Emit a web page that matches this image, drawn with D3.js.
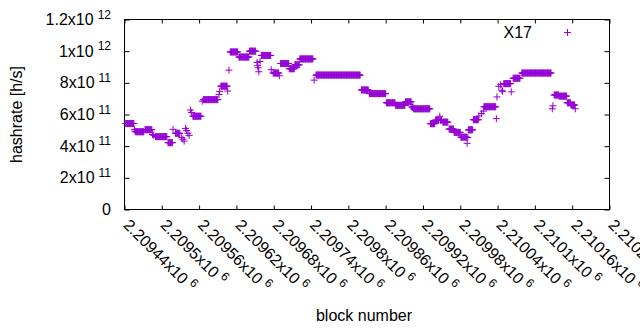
<!DOCTYPE html>
<html>
<head>
<meta charset="utf-8">
<script src="https://cdn.jsdelivr.net/npm/d3@7"></script>
<style>
  body { margin: 0; background: #fff; }
  text { font-family: "Liberation Sans", Arial, sans-serif; fill: #000; }
</style>
</head>
<body>
<svg id="chart" width="640" height="330"></svg>
<script>
// block numbers are offsets from 2209440; hashrate in units of 1e11 h/s
const blockBase = 2209440;
const runStart = [2, 16, 17, 18, 33, 45, 47, 50, 70, 78, 82, 92, 94, 96, 98, 100, 102, 104, 106, 108,
  110, 125, 127, 152, 153, 155, 166, 168, 170, 184, 201, 213, 214, 215, 216, 218, 220, 236, 239, 249,
  251, 265, 274, 282, 305, 308, 381, 394, 421, 436, 452, 462, 465, 492, 500, 507, 508, 512, 522, 530,
  541, 551, 552, 553, 561, 570, 574, 577, 578, 598, 599, 602, 605, 607, 608, 610, 622, 625, 639, 688,
  689, 691, 699, 712, 718, 725];
const runEnd = [15, 16, 17, 31, 44, 45, 47, 68, 77, 78, 89, 92, 94, 96, 98, 100, 102, 104, 106, 108,
  123, 125, 150, 152, 153, 165, 166, 168, 182, 200, 211, 213, 214, 215, 216, 218, 235, 236, 248, 249,
  264, 273, 281, 303, 305, 379, 392, 420, 435, 451, 461, 464, 491, 499, 505, 507, 510, 520, 529, 540,
  550, 551, 552, 560, 569, 570, 574, 577, 597, 598, 599, 602, 605, 607, 608, 621, 622, 636, 686, 688,
  689, 698, 711, 717, 724, 725];
const runValue = [5.43, 5.06, 4.95, 4.91, 5.04, 4.74, 4.68, 4.60, 4.22, 5.06, 4.81, 4.54, 4.44, 4.32, 5.12, 4.99, 4.81, 4.68, 6.28, 6.13,
  5.89, 6.84, 6.94, 7.26, 7.46, 7.79, 7.48, 8.80, 9.95, 9.63, 10.00, 9.29, 9.08, 8.95, 8.70, 9.35, 9.73, 8.83, 8.62, 8.45,
  9.22, 8.89, 9.14, 9.51, 8.17, 8.49, 7.55, 7.32, 6.74, 6.58, 6.80, 6.47, 6.36, 5.42, 5.64, 5.89, 5.64, 5.52, 5.08, 4.87,
  4.57, 4.18, 4.54, 5.03, 5.67, 5.91, 6.06, 6.21, 6.49, 5.74, 7.11, 7.78, 7.88, 7.53, 7.46, 7.95, 7.43, 8.29, 8.62, 6.36,
  6.55, 7.23, 7.16, 6.74, 6.60, 6.36];

const xTickBlocks = [2209440, 2209500, 2209560, 2209620, 2209680, 2209740, 2209800, 2209860,
  2209920, 2209980, 2210040, 2210100, 2210160, 2210220];
const xTickMant = ["2.20944", "2.2095", "2.20956", "2.20962", "2.20968", "2.20974", "2.2098",
  "2.20986", "2.20992", "2.20998", "2.21004", "2.2101", "2.21016", "2.21022"];
const xTickExp = "6";
const yTickValues = [0, 2e11, 4e11, 6e11, 8e11, 1e12, 1.2e12];
const yTickMant = ["0", "2", "4", "6", "8", "1", "1.2"];
const yTickExp = ["", "11", "11", "11", "11", "12", "12"];
const seriesName = "X17";

const color = "#9400d3";
const svg = d3.select("#chart");
const plotLeft = 124.5, plotRight = 609.5, plotTop = 19.5, plotBottom = 209.5;

const x = d3.scaleLinear().domain([2209440, 2210220]).range([plotLeft, plotRight]);
const y = d3.scaleLinear().domain([0, 1.2e12]).range([plotBottom, plotTop]);

// ticks on all four sides, pointing inward
svg.append("g").attr("transform", `translate(0,${plotBottom})`)
  .call(d3.axisBottom(x).tickValues(xTickBlocks).tickSize(-4).tickFormat(""));
svg.append("g").attr("transform", `translate(0,${plotTop})`)
  .call(d3.axisTop(x).tickValues(xTickBlocks).tickSize(-4).tickFormat(""));
svg.append("g").attr("transform", `translate(${plotLeft},0)`)
  .call(d3.axisLeft(y).tickValues(yTickValues).tickSize(-5).tickFormat(""));
svg.append("g").attr("transform", `translate(${plotRight},0)`)
  .call(d3.axisRight(y).tickValues(yTickValues).tickSize(-5).tickFormat(""));
svg.selectAll(".domain").remove();
svg.selectAll(".tick line").attr("stroke", "#000");

svg.append("rect")
  .attr("x", plotLeft).attr("y", plotTop)
  .attr("width", plotRight - plotLeft).attr("height", plotBottom - plotTop)
  .attr("fill", "none").attr("stroke", "#000");

// y tick labels with superscript exponents
yTickValues.forEach((v, i) => {
  const t = svg.append("text")
    .attr("x", 111).attr("y", y(v) + 5.5)
    .attr("text-anchor", "end")
    .attr("font-size", 16)
    .text(yTickMant[i] + (yTickExp[i] ? "x10" : ""));
  if (yTickExp[i]) {
    t.append("tspan").attr("dx", 4).attr("dy", -6.5).attr("font-size", 12).text(yTickExp[i]);
  }
});

// rotated x tick labels
xTickBlocks.forEach((b, i) => {
  const t = svg.append("text")
    .attr("transform", `translate(${x(b) - 2},${226}) rotate(45)`)
    .attr("font-size", 16)
    .text(xTickMant[i] + "x10");
  t.append("tspan").attr("dx", 4).attr("dy", -6.5).attr("font-size", 12).text(xTickExp);
});

svg.append("text")
  .attr("x", 364).attr("y", 321)
  .attr("text-anchor", "middle").attr("font-size", 16)
  .text("block number");

svg.append("text")
  .attr("transform", `translate(22,${(plotTop + plotBottom) / 2}) rotate(-90)`)
  .attr("text-anchor", "middle").attr("font-size", 16)
  .text("hashrate [h/s]");

// points: one "+" per block
const points = [];
runStart.forEach((s, i) => {
  for (let b = s; b <= runEnd[i]; b++) points.push([blockBase + b, runValue[i] * 1e11]);
});
const plus = (px, py) => `M${px - 3.5},${py}h7M${px},${py - 3.5}v7`;

svg.append("path")
  .attr("d", points.map(p => plus(x(p[0]), y(p[1]))).join(""))
  .attr("stroke", color).attr("stroke-width", 1).attr("fill", "none");

// legend
svg.append("text")
  .attr("x", 532).attr("y", 37.5)
  .attr("text-anchor", "end").attr("font-size", 16)
  .text(seriesName);
svg.append("path")
  .attr("d", plus(567.5, 32.5))
  .attr("stroke", color).attr("stroke-width", 1).attr("fill", "none");
</script>
</body>
</html>
